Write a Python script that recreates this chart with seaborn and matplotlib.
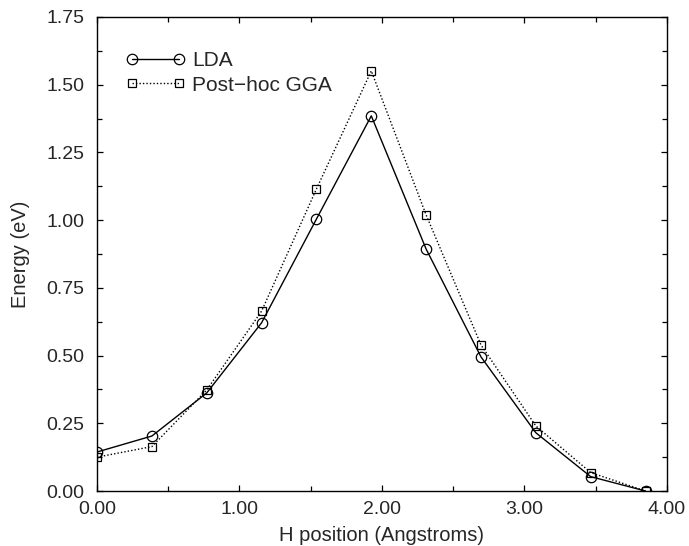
import matplotlib
matplotlib.use("Agg")
import matplotlib.pyplot as plt
from matplotlib.ticker import MultipleLocator, FormatStrFormatter
import seaborn as sns
import pandas as pd

# H positions along the path (Angstroms)
h_pos = [0.0, 0.385, 0.77, 1.155, 1.54, 1.925, 2.31, 2.695, 3.08, 3.465, 3.85]
# energies (eV)
lda = [0.144, 0.203, 0.362, 0.621, 1.004, 1.385, 0.893, 0.495, 0.215, 0.053, 0.0]
gga = [0.125, 0.164, 0.373, 0.664, 1.115, 1.551, 1.019, 0.539, 0.240, 0.068, 0.0]

df_lda = pd.DataFrame({"x": h_pos, "E": lda})
df_gga = pd.DataFrame({"x": h_pos, "E": gga})

sns.set_style("ticks")
plt.rcParams["font.family"] = ["Liberation Sans", "DejaVu Sans"]
plt.rcParams["font.size"] = 14

fig = plt.figure(figsize=(6.89, 5.46), dpi=100)
ax = fig.add_axes([0.1408, 0.1007, 0.968 - 0.1408, 0.9689 - 0.1007])

sns.lineplot(data=df_lda, x="x", y="E", ax=ax, color="black", linewidth=1.0,
             marker="o", markersize=7.5, markerfacecolor="none",
             markeredgecolor="black", markeredgewidth=0.9, label="LDA")
sns.lineplot(data=df_gga, x="x", y="E", ax=ax, color="black", linewidth=1.0,
             linestyle=(0, (1, 1.5)), marker="s", markersize=6,
             markerfacecolor="none", markeredgecolor="black",
             markeredgewidth=0.9, label="Post\u2212hoc GGA")

ax.set_xlim(0, 4)
ax.set_ylim(0, 1.75)
ax.xaxis.set_major_locator(MultipleLocator(1.0))
ax.xaxis.set_minor_locator(MultipleLocator(0.5))
ax.yaxis.set_major_locator(MultipleLocator(0.25))
ax.yaxis.set_minor_locator(MultipleLocator(0.125))
ax.xaxis.set_major_formatter(FormatStrFormatter("%.2f"))
ax.yaxis.set_major_formatter(FormatStrFormatter("%.2f"))
ax.tick_params(which="both", direction="in", top=True, right=True,
               labelsize=14, width=0.9, color="black")
ax.tick_params(which="major", length=4)
ax.tick_params(which="minor", length=3.5)
ax.tick_params(axis="x", which="major", pad=7)
ax.tick_params(axis="y", which="major", pad=9)
for s in ax.spines.values():
    s.set_linewidth(1.0)
    s.set_color("black")

ax.set_xlabel("H position (Angstroms)", fontsize=14.5, labelpad=6)
ax.set_ylabel("Energy (eV)", fontsize=14.5, labelpad=12)

ax.legend(loc="upper left", frameon=False, numpoints=2, handlelength=2.9,
          fontsize=15, bbox_to_anchor=(0.035, 0.945), borderaxespad=0,
          handletextpad=0.3, labelspacing=0.25)

fig.savefig("out.png", dpi=100)
